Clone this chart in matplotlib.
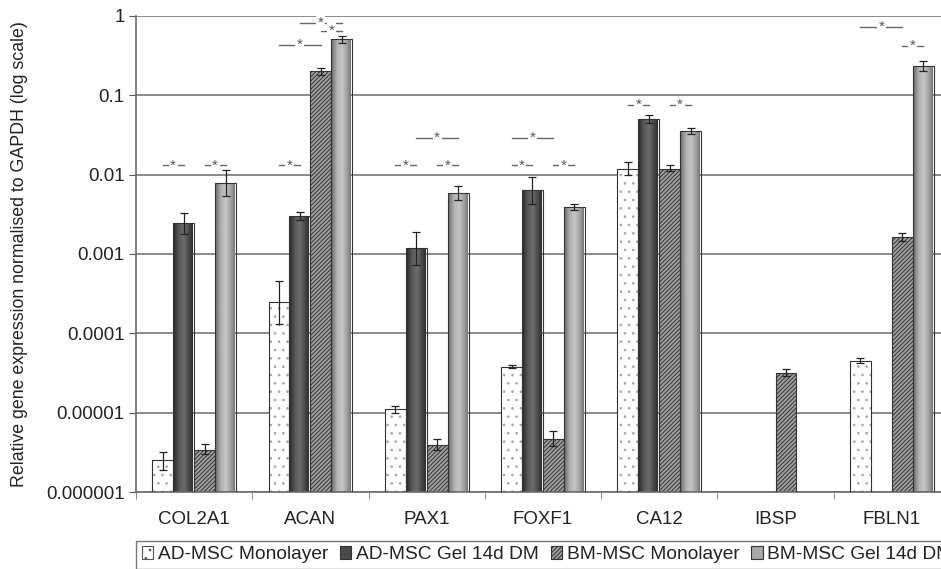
import matplotlib
matplotlib.use("Agg")
import matplotlib.pyplot as plt
import numpy as np
from matplotlib.patches import Patch
from matplotlib.colors import LinearSegmentedColormap

plt.rcParams['font.family'] = ['Liberation Sans', 'DejaVu Sans']
plt.rcParams['hatch.linewidth'] = 0.7

# data
genes = ['COL2A1', 'ACAN', 'PAX1', 'FOXF1', 'CA12', 'IBSP', 'FBLN1']
series = ['AD-MSC Monolayer', 'AD-MSC Gel 14d DM', 'BM-MSC Monolayer', 'BM-MSC Gel 14d DM']

ad_mono = [2.5e-6, 2.5e-4, 1.1e-5, 3.8e-5, 0.0118, np.nan, 4.5e-5]
ad_mono_lo = [1.9e-6, 1.3e-4, 1.0e-5, 3.6e-5, 0.0098, np.nan, 4.2e-5]
ad_mono_hi = [3.2e-6, 4.5e-4, 1.2e-5, 4.0e-5, 0.0145, np.nan, 4.9e-5]

ad_gel = [2.45e-3, 3.0e-3, 1.2e-3, 6.3e-3, 0.050, np.nan, np.nan]
ad_gel_lo = [1.8e-3, 2.7e-3, 7.3e-4, 4.3e-3, 0.044, np.nan, np.nan]
ad_gel_hi = [3.3e-3, 3.4e-3, 1.9e-3, 9.2e-3, 0.056, np.nan, np.nan]

bm_mono = [3.4e-6, 0.20, 3.9e-6, 4.7e-6, 0.0118, 3.2e-5, 1.65e-3]
bm_mono_lo = [3.0e-6, 0.18, 3.4e-6, 3.8e-6, 0.011, 2.9e-5, 1.45e-3]
bm_mono_hi = [4.0e-6, 0.22, 4.6e-6, 5.9e-6, 0.0132, 3.5e-5, 1.85e-3]

bm_gel = [7.9e-3, 0.51, 5.9e-3, 3.9e-3, 0.035, np.nan, 0.23]
bm_gel_lo = [5.3e-3, 0.45, 4.8e-3, 3.6e-3, 0.032, np.nan, 0.20]
bm_gel_hi = [0.0114, 0.56, 7.2e-3, 4.3e-3, 0.038, np.nan, 0.27]

ytick_vals = [1e-6, 1e-5, 1e-4, 1e-3, 1e-2, 1e-1, 1]
ytick_labels = ['0.000001', '0.00001', '0.0001', '0.001', '0.01', '0.1', '1']

# significance marks: (gene index, first bar, second bar, height)
sig_gene = [0, 0, 1, 1, 1, 1, 2, 2, 2, 3, 3, 3, 4, 4, 6, 6]
sig_a = [0, 2, 0, 0, 1, 2, 0, 2, 1, 0, 2, 0, 0, 2, 0, 2]
sig_b = [1, 3, 1, 2, 3, 3, 1, 3, 3, 1, 3, 2, 1, 3, 2, 3]
sig_y = [0.013, 0.013, 0.013, 0.43, 0.82, 0.65, 0.013, 0.013, 0.029,
         0.013, 0.013, 0.029, 0.076, 0.076, 0.73, 0.42]

values = [ad_mono, ad_gel, bm_mono, bm_gel]
lows = [ad_mono_lo, ad_gel_lo, bm_mono_lo, bm_gel_lo]
highs = [ad_mono_hi, ad_gel_hi, bm_mono_hi, bm_gel_hi]

base = 1e-6

fig = plt.figure(figsize=(9.41, 5.69), dpi=100)
ax = fig.add_axes([0.1445, 0.1353, 0.865, 0.837])
ax.set_yscale('log')
ax.set_ylim(base, 1)
ax.set_xlim(-0.5, len(genes) - 0.5)

width = 0.18
offsets = [-1.5 * width, -0.5 * width, 0.5 * width, 1.5 * width]
x = np.arange(len(genes))

# horizontal "cylinder" shading for the gel bars
dark_cmap = LinearSegmentedColormap.from_list('dk', ['#2a2a2a', '#585858', '#6c6c6c', '#484848', '#242424'])
light_cmap = LinearSegmentedColormap.from_list('lt', ['#6e6e6e', '#b0b0b0', '#c6c6c6', '#a0a0a0', '#686868'])
grad = np.linspace(0, 1, 64).reshape(1, -1)

for i in range(4):
    vals = np.array(values[i], dtype=float)
    heights = vals - base
    xs = x + offsets[i]
    if i == 0:
        ax.bar(xs, heights, width, bottom=base, color='white', edgecolor='#a8a8a8', hatch='..', lw=0, zorder=2)
        bars = ax.bar(xs, heights, width, bottom=base, color='none', edgecolor='#333333', lw=0.8, zorder=3)
    elif i == 2:
        ax.bar(xs, heights, width, bottom=base, color='#a0a0a0', edgecolor='#333333', hatch='////////', lw=0, zorder=2)
        bars = ax.bar(xs, heights, width, bottom=base, color='none', edgecolor='#333333', lw=0.8, zorder=3)
    else:
        cmap = dark_cmap if i == 1 else light_cmap
        bars = ax.bar(xs, heights, width, bottom=base, color='none', edgecolor='#333333', lw=0.8, zorder=3)
        for b, v in zip(bars, vals):
            if np.isnan(v):
                continue
            x0 = b.get_x()
            im = ax.imshow(grad, extent=[x0, x0 + width, base, v], aspect='auto',
                           cmap=cmap, zorder=2, interpolation='bilinear')
            im.set_clip_path(b)
    lo = vals - np.array(lows[i])
    hi = np.array(highs[i]) - vals
    ax.errorbar(xs, vals, yerr=[lo, hi], fmt='none', ecolor='#222222',
                elinewidth=0.9, capsize=3, capthick=0.9, zorder=4)

ax.set_xlim(-0.5, len(genes) - 0.5)
ax.set_ylim(base, 1)
ax.set_aspect('auto')

# significance bars
for g, a, b, yv in zip(sig_gene, sig_a, sig_b, sig_y):
    xa = g + offsets[a]
    xb = g + offsets[b]
    ax.plot([xa, xb], [yv, yv], color='#666666', lw=1, zorder=5)
    ax.text((xa + xb) / 2, yv, '*', ha='center', va='center', fontsize=11, color='#555555',
            zorder=6, bbox=dict(boxstyle='square,pad=0.1', fc='white', ec='none'))

# grid and axes
ax.yaxis.grid(True, color='#8a8a8a', lw=1.4, zorder=0)
ax.set_axisbelow(True)
ax.set_yticks(ytick_vals)
ax.set_yticklabels(ytick_labels)
ax.yaxis.set_minor_locator(plt.NullLocator())
ax.tick_params(axis='y', length=5, color='#555555', labelsize=13.5, labelcolor='#222222', pad=3)
ax.set_xticks(x)
ax.set_xticklabels(genes)
ax.set_xticks(np.arange(len(genes) + 1) - 0.5, minor=True)
ax.tick_params(axis='x', which='major', length=0, labelsize=13.5, labelcolor='#222222', pad=14)
ax.tick_params(axis='x', which='minor', length=5, color='#777777', direction='out')
for s in ['top', 'right']:
    ax.spines[s].set_visible(False)
for s in ['left', 'bottom']:
    ax.spines[s].set_color('#6a6a6a')
    ax.spines[s].set_linewidth(1.2)

ax.set_ylabel('Relative gene expression normalised to GAPDH (log scale)', fontsize=12.8, color='#222222')
ax.yaxis.set_label_coords(-0.133, 0.5)

handles = [
    Patch(facecolor='white', edgecolor='#555555', hatch='..', lw=0.8),
    Patch(facecolor='#4a4a4a', edgecolor='#333333', lw=0.8),
    Patch(facecolor='#a0a0a0', edgecolor='#333333', hatch='////////', lw=0.8),
    Patch(facecolor='#a8a8a8', edgecolor='#333333', lw=0.8),
]
leg = fig.legend(handles, series, loc='upper left', bbox_to_anchor=(0.1445, 0.05), ncol=4,
                 fontsize=13.8, frameon=True, fancybox=False, handlelength=0.6, handleheight=0.6,
                 handletextpad=0.25, columnspacing=0.6, borderpad=0.3, borderaxespad=0)
leg.get_frame().set_edgecolor('#555555')
leg.get_frame().set_linewidth(1.0)
for t in leg.get_texts():
    t.set_color('#222222')

fig.savefig('out.png', dpi=100)
